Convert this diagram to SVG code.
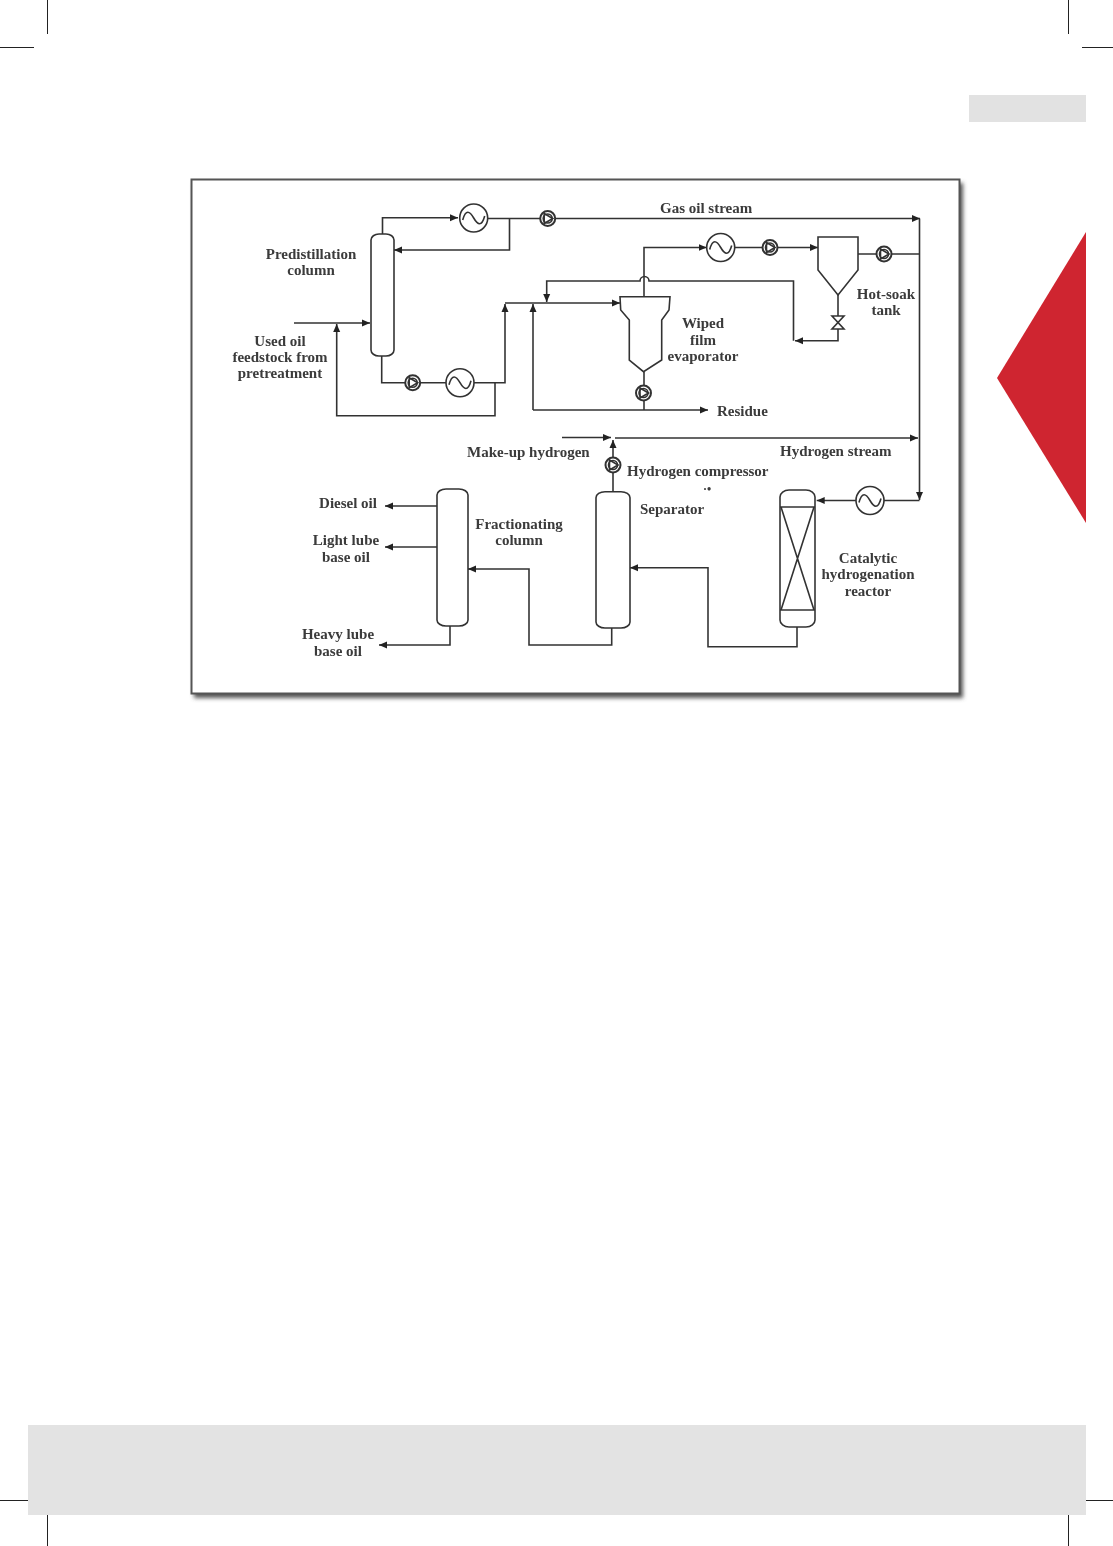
<svg xmlns="http://www.w3.org/2000/svg" width="1113" height="1546" viewBox="0 0 1113 1546">
<style>
.ln{fill:none;stroke:#333;stroke-width:1.6}
.eq{fill:#fff;stroke:#333;stroke-width:1.6}
.trim{stroke:#222;stroke-width:1;fill:none}
text{font-family:"Liberation Serif","DejaVu Serif",serif;font-weight:bold;font-size:15px;fill:#3a3a3a;text-anchor:middle}
.s{text-anchor:start}
</style>
<defs>
<marker id="a" markerUnits="userSpaceOnUse" markerWidth="9" markerHeight="8" refX="8" refY="4" orient="auto"><path d="M0 0.5L8 4L0 7.5z" fill="#222"/></marker>
<filter id="soft" x="-5%" y="-5%" width="110%" height="110%"><feGaussianBlur stdDeviation="0.45"/></filter>
<filter id="sh" x="-5%" y="-5%" width="110%" height="110%"><feGaussianBlur stdDeviation="2"/></filter>
<g id="hx"><circle r="14" class="eq"/><path d="M-11 2C-8 -9 -4 -7 0 0S8 9 11 -2" class="ln"/></g>
<g id="pump"><circle r="7.500" class="eq" style="stroke-width:2"/><circle r="4.500" class="ln"/><path d="M-3.500 -5L5 0L-3.500 5z" class="ln"/></g>
</defs>
<rect width="1113" height="1546" fill="#fff"/>
<g id="page">
<path class="trim" d="M47.500 0V34M0 47.500H34M1068.500 0V34M1082 47.500H1113M0 1500.500H34M47.500 1513V1546M1082 1500.500H1113M1068.500 1513V1546"/>
<rect x="969" y="95" width="117" height="27" fill="#e2e2e2"/>
<path d="M1086 232L997 378L1086 523z" fill="#cf2530"/>
<rect x="28" y="1425" width="1058" height="90" fill="#e3e3e3"/>
</g>
<rect x="194" y="183" width="769" height="515" fill="#555" filter="url(#sh)"/>
<rect x="191.500" y="179.500" width="768" height="514" fill="#fff" stroke="#555" stroke-width="2"/>
<g filter="url(#soft)">
<g id="connectors">
<path class="ln" d="M382.500 234V217.700H458" marker-end="url(#a)"/>
<path class="ln" d="M488 218.500H920" marker-end="url(#a)"/>
<path class="ln" d="M509.500 218.500V250H394" marker-end="url(#a)"/>
<path class="ln" d="M294 323H370" marker-end="url(#a)"/>
<path class="ln" d="M495 383V415.700H336.700V324" marker-end="url(#a)"/>
<path class="ln" d="M381.700 356V382.700H505V304" marker-end="url(#a)"/>
<path class="ln" d="M505 303H620" marker-end="url(#a)"/>
<path class="ln" d="M533 410V304" marker-end="url(#a)"/>
<path class="ln" d="M533 410H708" marker-end="url(#a)"/>
<path class="ln" d="M793.500 340.700V281H649A4.500 4.500 0 0 0 640 281H546.700V302" marker-end="url(#a)"/>
<path class="ln" d="M838 295V340.700H795" marker-end="url(#a)"/>
<path class="ln" d="M644 296.700V247.500H706.700" marker-end="url(#a)"/>
<path class="ln" d="M735 247.500H818" marker-end="url(#a)"/>
<path class="ln" d="M858 254H919.500"/>
<path class="ln" d="M919.500 218.500V500" marker-end="url(#a)"/>
<path class="ln" d="M919.500 500.500H816.700" marker-end="url(#a)"/>
<path class="ln" d="M644 371.700V410"/>
<path class="ln" d="M562 437.500H611" marker-end="url(#a)"/>
<path class="ln" d="M615 438H918" marker-end="url(#a)"/>
<path class="ln" d="M613 491.700V440" marker-end="url(#a)"/>
<path class="ln" d="M611.700 628V645H529V569H468" marker-end="url(#a)"/>
<path class="ln" d="M437 506H385" marker-end="url(#a)"/>
<path class="ln" d="M437 547H385" marker-end="url(#a)"/>
<path class="ln" d="M450 626V645H379" marker-end="url(#a)"/>
<path class="ln" d="M797 626.700V646.700H708V567.700H630" marker-end="url(#a)"/>
</g>
<g id="predistillation-column"><rect class="eq" x="371" y="234" width="23" height="122" rx="8" ry="6"/><text x="311" y="259">Predistillation</text><text x="311" y="275">column</text></g>
<g id="feed-label"><text x="280" y="346">Used oil</text><text x="280" y="362">feedstock from</text><text x="280" y="378">pretreatment</text></g>
<g id="hx1"><use href="#hx" x="473.700" y="218"/></g>
<g id="pump1"><use href="#pump" x="547.700" y="218.500"/></g>
<g id="gas-oil-label"><text class="s" x="660" y="213">Gas oil stream</text></g>
<g id="pump2"><use href="#pump" x="412.700" y="382.700"/></g>
<g id="hx2"><use href="#hx" x="460" y="382.700"/></g>
<g id="hx3"><use href="#hx" x="720.700" y="247.500"/></g>
<g id="pump3"><use href="#pump" x="770" y="247.500"/></g>
<g id="hot-soak-tank"><path class="eq" d="M818 237H858V270L838 295L818 270z"/><path class="eq" d="M832 316L844 316L832 329H844z"/><text x="886" y="299">Hot-soak</text><text x="886" y="315">tank</text></g>
<g id="pump4"><use href="#pump" x="884" y="254"/></g>
<g id="wiped-film-evaporator"><path class="eq" d="M620 296.700H670L669 310L661.700 320V360L643.500 371.700L629.300 360V320L620.700 310z"/><text x="703" y="328">Wiped</text><text x="703" y="345">film</text><text x="703" y="361">evaporator</text></g>
<g id="pump5"><use href="#pump" x="643.500" y="393"/></g>
<g id="residue-label"><text class="s" x="717" y="416">Residue</text></g>
<g id="makeup-label"><text class="s" x="467" y="457">Make-up hydrogen</text></g>
<g id="hydrogen-stream-label"><text class="s" x="780" y="456">Hydrogen stream</text></g>
<g id="hydrogen-compressor"><use href="#pump" x="613" y="465"/><text class="s" x="627" y="476">Hydrogen compressor</text><text x="707" y="493" style="font-size:12px">·•</text></g>
<g id="separator"><rect class="eq" x="596" y="491.700" width="34" height="136.300" rx="9" ry="6"/><text class="s" x="640" y="514">Separator</text></g>
<g id="fractionating-column"><rect class="eq" x="437" y="489" width="31" height="137" rx="9" ry="6"/><text x="519" y="529">Fractionating</text><text x="519" y="545">column</text></g>
<g id="product-labels"><text x="348" y="508">Diesel oil</text><text x="346" y="545">Light lube</text><text x="346" y="562">base oil</text><text x="338" y="639">Heavy lube</text><text x="338" y="656">base oil</text></g>
<g id="catalytic-reactor"><rect class="eq" x="780" y="490" width="35" height="137" rx="9" ry="7"/><path class="ln" d="M780 507H815M780 610H815M781 507L814 610M814 507L781 610"/><text x="868" y="563">Catalytic</text><text x="868" y="579">hydrogenation</text><text x="868" y="596">reactor</text></g>
<g id="hx4"><use href="#hx" x="870" y="500.500"/></g>
</g>
</svg>
